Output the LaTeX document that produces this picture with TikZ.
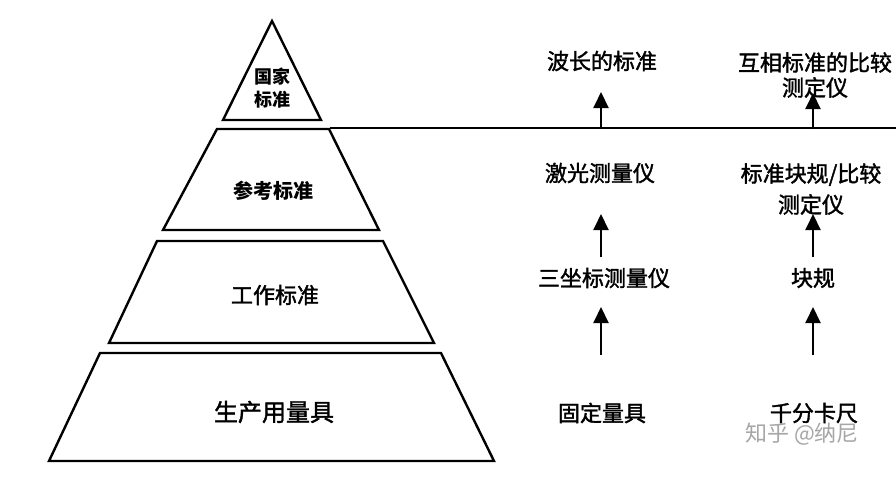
\documentclass[tikz,border=0pt]{standalone}
\usepackage{fontspec}
\setmainfont{Noto Sans CJK SC}
\newfontfamily\semifont[FakeBold=1.6]{Noto Sans CJK SC}
\usetikzlibrary{arrows.meta}
\tikzset{
  layer/.style={draw=black, line width=2.4pt, line join=miter},
  lbl/.style={inner sep=0pt, font=\fontsize{22}{26}\selectfont\semifont, align=center},
  up/.style={-{Triangle[width=15pt,length=16pt]}, line width=2pt},
  wm/.style={inner sep=0pt, text=black!35, font=\fontsize{22}{26}\selectfont}
}
\begin{document}
\begin{tikzpicture}[x=1pt,y=-1pt]
\useasboundingbox[fill=white] (0,0) rectangle (896,477);
% pyramid
\draw[layer] (272,21) -- (321,120) -- (223,120) -- cycle;
\draw[layer] (217,129) -- (329,129) -- (379,230) -- (163,230) -- cycle;
\draw[layer] (157,241) -- (383,241) -- (434,343) -- (109,343) -- cycle;
\draw[layer] (100,353) -- (441,353) -- (494,461) -- (49,461) -- cycle;
\node[lbl, font=\fontsize{18}{23}\selectfont\bfseries] (gj) at (272,88) {国家\\标准};
\node[lbl, font=\fontsize{20}{24}\selectfont\bfseries] (ck) at (273,191) {参考标准};
\node[lbl] (gz) at (275,295) {工作标准};
\node[lbl, font=\fontsize{24}{28}\selectfont\semifont] (sc) at (274,412) {生产用量具};
% separation line
\coordinate (ls) at (330,128);
\coordinate (le) at (896,128);
\draw[line width=1.6pt] (ls) -- (le);
% column 1
\node[lbl] (bc) at (602,61) {波长的标准};
\node[lbl] (jg) at (600,173) {激光测量仪};
\node[lbl] (sz) at (604,278) {三坐标测量仪};
\node[lbl] (gd) at (602,413) {固定量具};
% column 2
\node[lbl, font=\fontsize{22}{25}\selectfont\semifont] (hx) at (815,75) {互相标准的比较\\测定仪};
\node[lbl, font=\fontsize{22}{31}\selectfont\semifont] (bz) at (811,189) {标准块规/比较\\测定仪};
\node[lbl] (kg) at (813,278) {块规};
\node[lbl] (qf) at (814,413) {千分卡尺};
% arrows
\coordinate (a1s) at (601,129); \coordinate (a1e) at (601,92);
\coordinate (a2s) at (601,257); \coordinate (a2e) at (601,214);
\coordinate (a3s) at (601,355); \coordinate (a3e) at (601,307);
\coordinate (b1s) at (813,129); \coordinate (b1e) at (813,93);
\coordinate (b2s) at (813,257); \coordinate (b2e) at (813,214);
\coordinate (b3s) at (813,355); \coordinate (b3e) at (813,307);
\draw[up] (a1s) -- (a1e);
\draw[up] (a2s) -- (a2e);
\draw[up] (a3s) -- (a3e);
\draw[up] (b1s) -- (b1e);
\draw[up] (b2s) -- (b2e);
\draw[up] (b3s) -- (b3e);
% watermark
\node[wm] (wmk) at (802,434) {知乎 @纳尼};
\end{tikzpicture}
\end{document}
